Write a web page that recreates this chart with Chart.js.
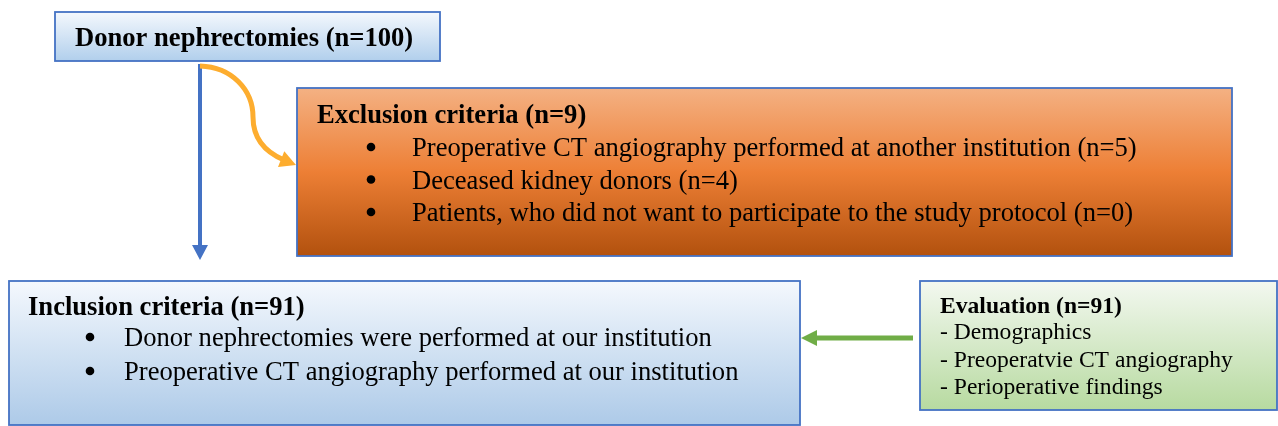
<!DOCTYPE html>
<html>
<head>
<meta charset="utf-8">
<script src="https://cdn.jsdelivr.net/npm/chart.js@4"></script>
<style>
  html, body { margin: 0; padding: 0; background: #ffffff; }
  #wrap { width: 1278px; height: 426px; }
</style>
</head>
<body>
<div id="wrap"><canvas id="flow-chart" width="1278" height="426"></canvas></div>
<script>
// flow chart content
const startTitle = 'Donor nephrectomies (n=100)';
const exclusionTitle = 'Exclusion criteria (n=9)';
const exclusionItems = [
    'Preoperative CT angiography performed at another institution (n=5)',
    'Deceased kidney donors (n=4)',
    'Patients, who did not want to participate to the study protocol (n=0)'
];
const inclusionTitle = 'Inclusion criteria (n=91)';
const inclusionItems = [
    'Donor nephrectomies were performed at our institution',
    'Preoperative CT angiography performed at our institution'
];
const evaluationTitle = 'Evaluation (n=91)';
const evaluationItems = [
    '- Demographics',
    '- Preoperatvie CT angiography',
    '- Perioperative findings'
];

// layout in page units (x: 0..1278, y: 0..426 from top)
const layout = {
    start: { x0: 55, y0: 12, x1: 440, y1: 61, colors: ['#f4f8fd', '#b1cfec'] },
    exclusion: { x0: 297, y0: 88, x1: 1232, y1: 256, colors: ['#f4b183', '#ed7f35', '#b2510e'] },
    inclusion: { x0: 9, y0: 281, x1: 800, y1: 425, colors: ['#f4f8fd', '#adcae8'] },
    evaluation: { x0: 920, y0: 281, x1: 1277, y1: 410, colors: ['#f3f8f0', '#b7daa0'] }
};

const serif = '"Liberation Serif", "Times New Roman", serif';

function boxPath(ctx, sx, sy, b) {
    let px0 = sx.getPixelForValue(b.x0), px1 = sx.getPixelForValue(b.x1);
    let py0 = sy.getPixelForValue(b.y0), py1 = sy.getPixelForValue(b.y1);
    let g = ctx.createLinearGradient(0, py0, 0, py1);
    b.colors.forEach((c, i) => g.addColorStop(i / (b.colors.length - 1), c));
    ctx.fillStyle = g;
    ctx.fillRect(px0, py0, px1 - px0, py1 - py0);
    ctx.strokeStyle = '#4472c4';
    ctx.lineWidth = 1.8;
    ctx.strokeRect(px0, py0, px1 - px0, py1 - py0);
}

// y is the text baseline
function text(ctx, sx, sy, str, x, y, font) {
    ctx.font = font;
    ctx.fillStyle = '#000000';
    ctx.textBaseline = 'alphabetic';
    ctx.textAlign = 'left';
    ctx.fillText(str, sx.getPixelForValue(x), sy.getPixelForValue(y));
}

function bullets(ctx, sx, sy, items, bx, tx, y, step) {
    items.forEach((s, i) => {
        let yy = y + i * step;
        ctx.beginPath();
        ctx.arc(sx.getPixelForValue(bx), sy.getPixelForValue(yy - 9), 4.3, 0, Math.PI * 2);
        ctx.fillStyle = '#000';
        ctx.fill();
        text(ctx, sx, sy, s, tx, yy, '26.6px ' + serif);
    });
}

function arrowHead(ctx, x, y, dir, len, half, color) {
    // dir: angle the arrow points to
    ctx.save();
    ctx.translate(x, y);
    ctx.rotate(dir);
    ctx.beginPath();
    ctx.moveTo(0, 0);
    ctx.lineTo(-len, -half);
    ctx.lineTo(-len, half);
    ctx.closePath();
    ctx.fillStyle = color;
    ctx.fill();
    ctx.restore();
}

const flowPlugin = {
    id: 'flow',
    afterDraw(chart) {
        const ctx = chart.ctx;
        const sx = chart.scales.x, sy = chart.scales.y;
        const X = v => sx.getPixelForValue(v), Y = v => sy.getPixelForValue(v);
        ctx.save();

        // boxes
        boxPath(ctx, sx, sy, layout.start);
        boxPath(ctx, sx, sy, layout.exclusion);
        boxPath(ctx, sx, sy, layout.inclusion);
        boxPath(ctx, sx, sy, layout.evaluation);

        // blue arrow down
        ctx.strokeStyle = '#4472c4';
        ctx.lineWidth = 4;
        ctx.beginPath();
        ctx.moveTo(X(200), Y(64));
        ctx.lineTo(X(200), Y(247));
        ctx.stroke();
        arrowHead(ctx, X(200), Y(260), Math.PI / 2, 15, 8, '#4472c4');

        // orange curved arrow
        ctx.strokeStyle = '#fdad2f';
        ctx.lineWidth = 5;
        ctx.beginPath();
        ctx.moveTo(X(200), Y(66));
        ctx.bezierCurveTo(X(232), Y(67), X(253), Y(90), X(253), Y(117));
        ctx.bezierCurveTo(X(253), Y(138), X(265), Y(152), X(284), Y(160));
        ctx.stroke();
        arrowHead(ctx, X(296), Y(165), 0.38, 16, 8.5, '#fdad2f');

        // green arrow left
        ctx.strokeStyle = '#70ad47';
        ctx.lineWidth = 5;
        ctx.beginPath();
        ctx.moveTo(X(913), Y(338));
        ctx.lineTo(X(814), Y(338));
        ctx.stroke();
        arrowHead(ctx, X(801), Y(338), Math.PI, 16, 8, '#70ad47');

        // texts
        text(ctx, sx, sy, startTitle, 75, 46, 'bold 26.6px ' + serif);
        text(ctx, sx, sy, exclusionTitle, 317, 123, 'bold 26.6px ' + serif);
        bullets(ctx, sx, sy, exclusionItems, 371, 412, 156, 32.5);
        text(ctx, sx, sy, inclusionTitle, 28, 315, 'bold 26.6px ' + serif);
        bullets(ctx, sx, sy, inclusionItems, 90, 124, 346, 34);
        text(ctx, sx, sy, evaluationTitle, 940, 313, 'bold 23.6px ' + serif);
        evaluationItems.forEach((s, i) => {
            text(ctx, sx, sy, s, 940, 339 + i * 27.5, '23.6px ' + serif);
        });

        ctx.restore();
    }
};

const ctx = document.getElementById('flow-chart').getContext('2d');
window.myChart = new Chart(ctx, {
    type: 'scatter',
    data: { datasets: [{ data: [] }] },
    options: {
        responsive: false,
        animation: false,
        layout: { padding: 0 },
        plugins: { legend: { display: false }, tooltip: { enabled: false } },
        scales: {
            x: { type: 'linear', min: 0, max: 1278, display: false },
            y: { type: 'linear', min: 0, max: 426, reverse: true, display: false }
        }
    },
    plugins: [flowPlugin]
});
</script>
</body>
</html>
